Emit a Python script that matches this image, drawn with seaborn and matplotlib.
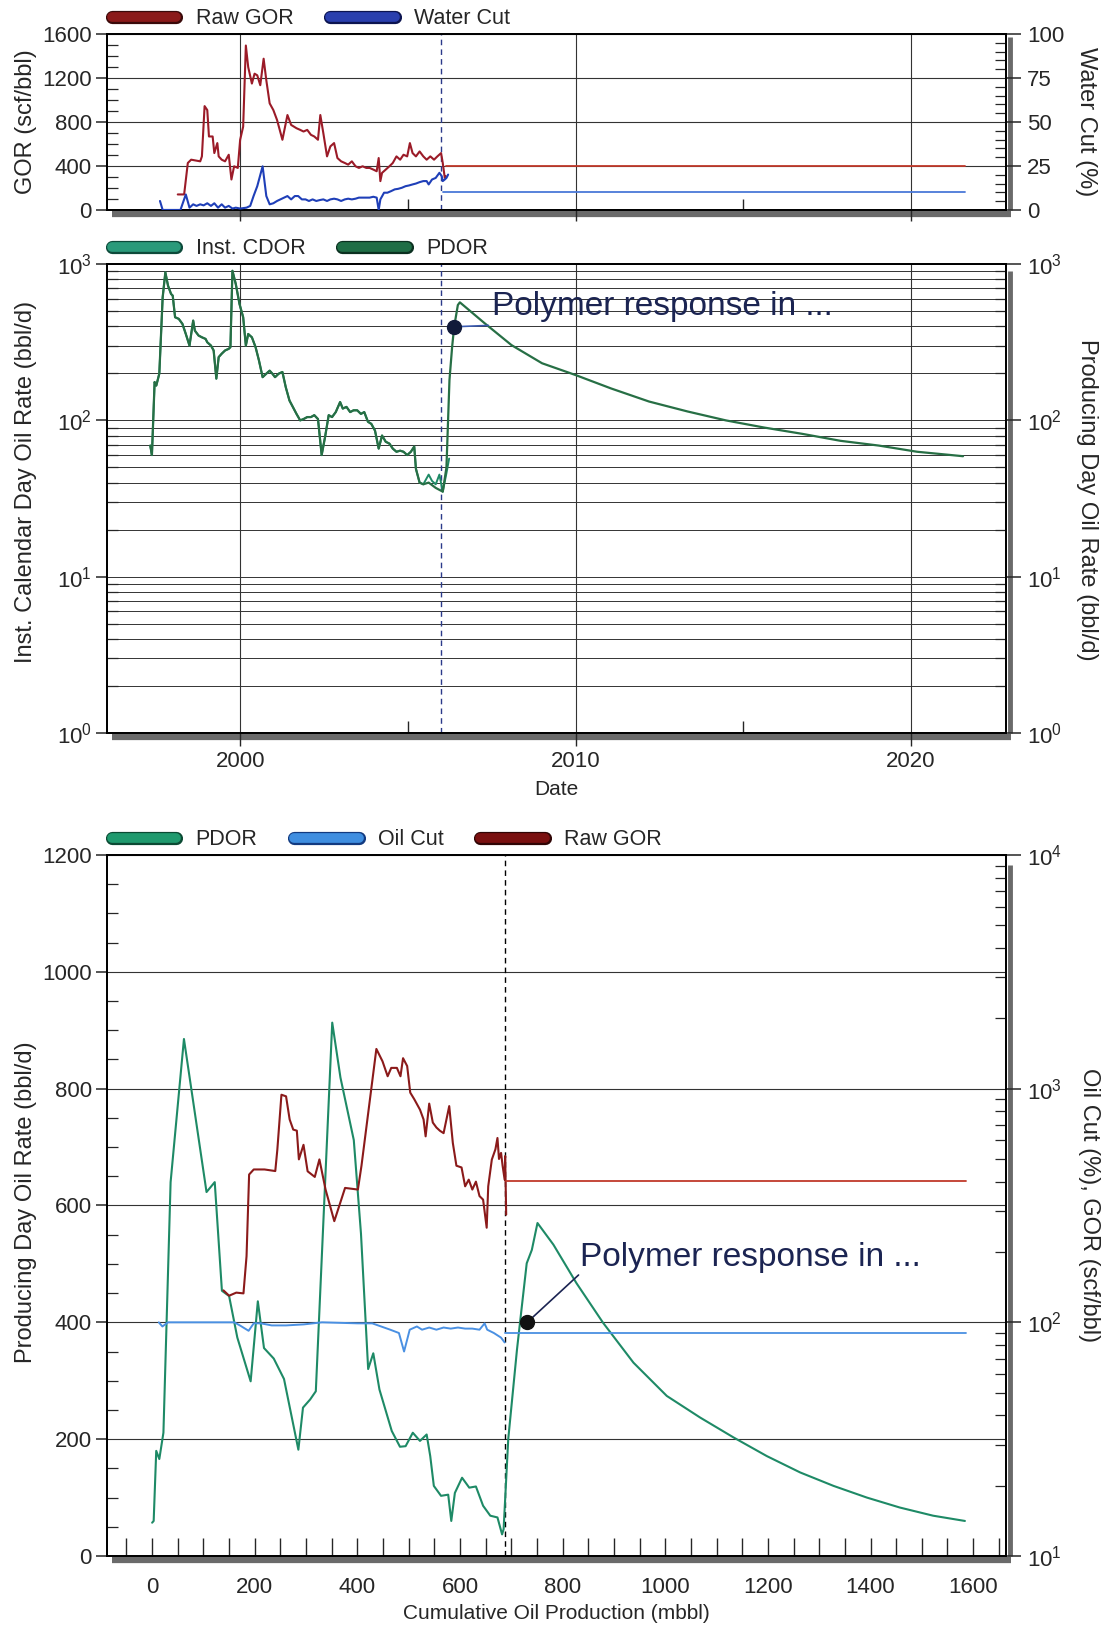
import numpy as np
import pandas as pd
import matplotlib
matplotlib.use("Agg")
import matplotlib.pyplot as plt
import seaborn as sns
from matplotlib import font_manager, transforms
from matplotlib.lines import Line2D
from matplotlib.ticker import MultipleLocator, FixedLocator, LogLocator, NullFormatter
import matplotlib.patheffects as pe

# ---------------- data ----------------
# Top panel: Raw GOR history (year, scf/bbl)
gor_hist = [(1998.14,141),(1998.33,141),(1998.44,427),(1998.54,457),(1998.81,442),(1998.86,487),
            (1998.94,944),(1999.02,908),(1999.07,668),(1999.18,668),(1999.23,517),(1999.32,608),
            (1999.36,487),(1999.45,457),(1999.55,442),(1999.66,502),(1999.74,277),(1999.82,397),
            (1999.93,382),(2000.00,638),(2000.09,758),(2000.17,1495),(2000.24,1299),(2000.35,1149),
            (2000.43,1239),(2000.51,1224),(2000.60,1134),(2000.70,1375),(2000.78,1179),(2000.88,969),
            (2000.99,908),(2001.10,818),(2001.26,638),(2001.41,863),(2001.52,773),(2001.68,743),
            (2001.79,728),(2001.89,713),(2002.00,728),(2002.11,683),(2002.21,668),(2002.32,638),
            (2002.39,863),(2002.48,698),(2002.59,487),(2002.69,578),(2002.80,608),(2002.90,472),
            (2003.01,442),(2003.12,427),(2003.22,412),(2003.33,442),(2003.44,397),(2003.54,382),
            (2003.65,397),(2003.76,382),(2003.86,382),(2003.97,367),(2004.07,352),(2004.13,472),
            (2004.18,262),(2004.23,337),(2004.34,367),(2004.45,397),(2004.55,427),(2004.66,487),
            (2004.77,457),(2004.87,502),(2004.98,487),(2005.06,608),(2005.14,517),(2005.24,487),
            (2005.35,532),(2005.46,487),(2005.56,457),(2005.67,487),(2005.78,457),(2005.88,487),
            (2005.99,517),(2006.04,427),(2006.10,292),(2006.13,307)]
gor_fcst = [(2006.13,400),(2021.60,400)]

# Top panel: Water Cut history (year, %)
wc_hist = [(1997.61,5.1),(1997.69,0),(1998.22,0),(1998.38,8.8),(1998.49,1.3),(1998.60,3.2),
           (1998.70,2.3),(1998.81,3.2),(1998.91,2.6),(1999.02,3.8),(1999.13,2.3),(1999.23,3.8),
           (1999.34,1.3),(1999.45,3.2),(1999.55,1.3),(1999.66,2.3),(1999.77,0.8),(1999.87,1.3),
           (2000.00,0.8),(2000.19,1.3),(2000.30,2.3),(2000.40,7.9),(2000.51,13.5),(2000.67,24.8),
           (2000.78,7.9),(2000.88,3.2),(2000.99,3.8),(2001.10,5.1),(2001.20,6.0),(2001.31,7.0),
           (2001.41,7.9),(2001.52,6.0),(2001.63,7.9),(2001.73,7.9),(2001.84,6.0),(2001.95,6.0),
           (2002.05,5.1),(2002.16,6.0),(2002.27,5.1),(2002.37,5.6),(2002.48,6.0),(2002.59,5.1),
           (2002.69,6.0),(2002.80,6.4),(2002.90,6.0),(2003.01,5.1),(2003.12,6.0),(2003.22,6.4),
           (2003.33,6.0),(2003.44,6.4),(2003.54,7.0),(2003.65,7.0),(2003.76,7.0),(2003.86,7.0),
           (2003.97,7.5),(2004.07,7.0),(2004.13,0),(2004.18,6.0),(2004.29,9.8),(2004.39,9.8),
           (2004.50,10.7),(2004.61,11.7),(2004.71,12.0),(2004.82,12.6),(2004.93,13.5),(2005.03,13.9),
           (2005.14,14.5),(2005.24,15.0),(2005.35,15.8),(2005.46,16.4),(2005.56,16.4),(2005.62,14.5),
           (2005.72,17.3),(2005.83,18.2),(2005.94,21.1),(2006.01,19.2),(2006.04,16.4),(2006.10,17.3),
           (2006.15,18.2),(2006.20,20.1)]
wc_fcst = [(2006.04,10),(2021.60,10)]

# Middle panel: Inst. CDOR history (year, bbl/d)
cdor_hist = [(1997.32,69),(1997.37,60),(1997.45,176),(1997.50,167),(1997.59,199),(1997.69,612),
             (1997.77,885),(1997.85,727),(1997.94,644),(1997.99,628),(1998.06,457),(1998.17,446),
             (1998.28,414),(1998.38,357),(1998.49,301),(1998.60,435),(1998.65,375),(1998.76,349),
             (1998.86,340),(1998.97,332),(1999.02,316),(1999.13,301),(1999.21,280),(1999.29,185),
             (1999.36,254),(1999.45,267),(1999.55,280),(1999.66,287),(1999.71,294),(1999.77,906),
             (1999.87,745),(1999.98,556),(2000.09,457),(2000.17,301),(2000.24,357),(2000.35,340),
             (2000.46,294),(2000.56,242),(2000.67,189),(2000.78,199),(2000.88,208),(2000.96,199),
             (2001.04,189),(2001.15,199),(2001.26,204),(2001.36,163),(2001.47,134),(2001.57,122),
             (2001.68,110),(2001.79,100),(2001.89,102),(2002.00,105),(2002.11,105),(2002.21,108),
             (2002.32,102),(2002.43,60),(2002.53,78),(2002.64,108),(2002.74,105),(2002.85,113),
             (2002.98,131),(2003.06,119),(2003.17,122),(2003.28,113),(2003.38,116),(2003.49,116),
             (2003.60,110),(2003.70,113),(2003.81,98),(2003.91,95),(2004.02,86),(2004.13,66),
             (2004.23,80),(2004.34,73),(2004.45,71),(2004.55,66),(2004.66,63),(2004.77,64),
             (2004.87,63),(2004.98,60),(2005.09,63),(2005.19,68),(2005.24,49),(2005.35,40),
             (2005.46,39),(2005.62,45),(2005.72,41),(2005.83,39),(2005.94,45),(2006.04,35),
             (2006.15,46),(2006.23,57)]
# Middle panel: PDOR (history + polymer response forecast)
pdor_time = [(1997.32,69),(1997.37,60),(1997.45,176),(1997.50,167),(1997.59,199),(1997.69,612),
             (1997.77,885),(1997.85,727),(1997.94,644),(1997.99,628),(1998.06,457),(1998.17,446),
             (1998.28,414),(1998.38,357),(1998.49,301),(1998.60,435),(1998.65,375),(1998.76,349),
             (1998.86,340),(1998.97,332),(1999.02,316),(1999.13,301),(1999.21,280),(1999.29,185),
             (1999.36,254),(1999.45,267),(1999.55,280),(1999.66,287),(1999.71,294),(1999.77,906),
             (1999.87,745),(1999.98,556),(2000.09,457),(2000.17,301),(2000.24,357),(2000.35,340),
             (2000.46,294),(2000.56,242),(2000.67,189),(2000.78,199),(2000.88,208),(2000.96,199),
             (2001.04,189),(2001.15,199),(2001.26,204),(2001.36,163),(2001.47,134),(2001.57,122),
             (2001.68,110),(2001.79,100),(2001.89,102),(2002.00,105),(2002.11,105),(2002.21,108),
             (2002.32,102),(2002.43,60),(2002.53,78),(2002.64,108),(2002.74,105),(2002.85,113),
             (2002.98,131),(2003.06,119),(2003.17,122),(2003.28,113),(2003.38,116),(2003.49,116),
             (2003.60,110),(2003.70,113),(2003.81,98),(2003.91,95),(2004.02,86),(2004.13,66),
             (2004.23,80),(2004.34,73),(2004.45,71),(2004.55,66),(2004.66,63),(2004.77,64),
             (2004.87,63),(2004.98,60),(2005.09,63),(2005.19,68),(2005.24,49),(2005.35,40),
             (2005.46,39),(2005.62,40),(2005.83,37),(2006.04,35),
             (2006.15,50),(2006.24,181),(2006.32,296),(2006.38,397),(2006.49,547),(2006.55,569),
             (2007.29,418),(2008.09,303),(2009.00,232),(2010.00,195),(2011.06,160),(2012.19,132),
             (2013.34,114),(2014.48,100),(2015.62,90),(2016.76,82),(2017.90,74),(2019.04,69),
             (2020.18,63),(2021.55,59)]

# Bottom panel: PDOR vs cumulative oil (mbbl, bbl/d)
pdor_cum = [(0,57),(3,60),(8,180),(14,166),(22,211),(36,640),(62,885),(106,623),(122,640),
            (136,454),(150,445),(166,374),(192,299),(206,436),(218,356),(237,338),(257,303),
            (285,182),(294,254),(308,268),(319,282),(351,913),(367,819),(393,712),(407,552),
            (421,320),(431,347),(443,285),(467,214),(483,187),(494,188),(508,211),(522,197),
            (535,208),(542,171),(549,120),(563,103),(577,105),(583,60),(590,108),(604,134),
            (618,117),(631,119),(645,86),(659,69),(673,66),(682,37),(685,46),
            (694,200),(711,353),(717,400),(730,501),(740,524),(751,570),(782,533),(827,467),
            (879,399),(938,331),(1003,274),(1068,237),(1133,203),(1198,171),(1263,143),
            (1328,120),(1393,100),(1457,83),(1522,69),(1584,60)]
# Bottom panel: Oil Cut (%) vs cumulative
oilcut_cum = [(13,100),(20,96),(31,100),(160,100),(171,97),(188,92),(198,99),(212,99),(233,97),
              (261,97),(296,98),(331,100),(401,99),(429,99),(464,93),(481,90),(491,75),(502,93),
              (516,96),(526,93),(540,95),(554,93),(568,95),(582,94),(596,95),(610,94),(624,94),
              (638,93),(648,99),(653,93),(666,90),(680,86),(687,82)]
oilcut_fcst = [(687,90),(1587,90)]
# Bottom panel: Raw GOR (scf/bbl) vs cumulative
gor_cum = [(139,137),(150,130),(164,134),(178,133),(184,192),(189,429),(198,451),(219,451),
           (240,444),(244,548),(252,942),(261,927),(268,738),(275,668),(282,661),(286,498),
           (295,575),(303,443),(317,419),(326,498),(338,370),(355,271),(376,376),(401,370),
           (408,468),(437,1479),(449,1309),(459,1130),(466,1227),(477,1227),(484,1130),
           (489,1350),(497,1250),(503,962),(511,900),(522,813),(529,738),(533,625),(540,863),
           (547,716),(554,682),(561,660),(568,645),(579,842),(586,586),(593,468),(603,460),
           (610,382),(617,408),(624,370),(631,400),(638,347),(645,335),(652,254),(655,382),
           (662,497),(669,550),(673,615),(676,500),(680,531),(683,468),(687,408),(688,515),
           (690,289)]
gor_cum_fcst = [(690,402),(1586,402)]

# annotation anchors
polymer_label = "Polymer response in ..."
polymer_time_dot = (2006.38, 397)
polymer_time_leader = (2007.40, 405)
polymer_time_text = (2007.52, 472)
polymer_cum_dot = (731, 400)
polymer_cum_leader = (831, 481)
polymer_cum_text = (834, 496)
polymer_start_year = 2006.0
polymer_start_cum = 687

year_ticks = [2000, 2010, 2020]
cum_ticks = [0, 200, 400, 600, 800, 1000, 1200, 1400, 1600]

# ---------------- style ----------------
sns.set_theme(style="white")
avail = {f.name for f in font_manager.fontManager.ttflist}
fam = "Liberation Sans" if "Liberation Sans" in avail else "DejaVu Sans"
plt.rcParams["font.family"] = [fam, "DejaVu Sans"]
plt.rcParams["mathtext.default"] = "regular"
plt.rcParams["axes.edgecolor"] = "black"
plt.rcParams["axes.linewidth"] = 1.3

C_GOR = "#9b1b28"
C_GOR_F = "#c0392b"
C_WC = "#1f3fb8"
C_WC_F = "#4a78d8"
C_GREEN = "#276f45"
C_TEAL = "#1e8a66"
C_OILCUT = "#4a90e2"
C_NAVY = "#1b2452"
GRID = "#333333"
TICK_FS = 16
LAB_FS = 17

def df(pairs):
    return pd.DataFrame(pairs, columns=["x", "y"])

def line(ax, pairs, color, lw=1.5, z=3):
    d = df(pairs)
    sns.lineplot(data=d, x="x", y="y", ax=ax, color=color, lw=lw, estimator=None,
                 sort=False, zorder=z)

fig = plt.figure(figsize=(11.04, 16.25), dpi=100)
L, W = 0.0969, 0.8143
ax1 = fig.add_axes([L, 0.8708, W, 0.1083])
ax2 = fig.add_axes([L, 0.5489, W, 0.2886])
ax3 = fig.add_axes([L, 0.04246, W, 0.4314])
ax1r = ax1.twinx()
ax2r = ax2.twinx()
ax3r = ax3.twinx()

def shadow(ax):
    tb = transforms.offset_copy(ax.transAxes, fig=fig, x=0, y=-4, units="dots")
    ax.plot([0.006, 1.006], [0, 0], transform=tb, color="#6a6a6a", lw=4.5,
            clip_on=False, solid_capstyle="butt", zorder=0)
    tr = transforms.offset_copy(ax.transAxes, fig=fig, x=4, y=0, units="dots")
    ax.plot([1, 1], [-0.0, 0.985], transform=tr, color="#6a6a6a", lw=3.5,
            clip_on=False, solid_capstyle="butt", zorder=0)

def legend_handle(color, edge):
    return Line2D([0], [0], color=color, lw=7, solid_capstyle="round",
                  path_effects=[pe.Stroke(linewidth=9.5, foreground=edge), pe.Normal()])

def add_legend(ax, items):
    hs = [legend_handle(c, e) for c, e, _ in items]
    ls = [t for _, _, t in items]
    ax.legend(hs, ls, loc="lower left", bbox_to_anchor=(0.0, 1.0), ncol=len(items),
              frameon=False, handlelength=3.0, handletextpad=0.9, columnspacing=1.7,
              borderpad=0.0, borderaxespad=0.22, fontsize=15.5)

# ---------------- top panel ----------------
line(ax1, gor_hist, C_GOR)
line(ax1, gor_fcst, C_GOR_F, lw=1.3)
line(ax1r, wc_hist, C_WC)
line(ax1r, wc_fcst, C_WC_F, lw=1.3)
ax1.axvline(polymer_start_year, color="#2b3a8a", ls=(0, (4, 3)), lw=1.0, zorder=2)
ax1.set_xlim(1996.03, 2022.83)
ax1.set_ylim(0, 1600)
ax1r.set_ylim(0, 100)
ax1.set_yticks([0, 400, 800, 1200, 1600])
ax1.yaxis.set_minor_locator(MultipleLocator(100))
ax1r.set_yticks([0, 25, 50, 75, 100])
ax1r.yaxis.set_minor_locator(MultipleLocator(5))
ax1.set_xticks(year_ticks)
ax1.xaxis.set_minor_locator(FixedLocator([2005, 2015]))
ax1.set_xticklabels([])
ax1.grid(True, which="major", axis="both", color=GRID, lw=0.8)
ax1.set_xlabel("")
ax1.set_ylabel("GOR (scf/bbl)", fontsize=LAB_FS)
ax1r.set_ylabel("Water Cut (%)", fontsize=LAB_FS, rotation=270, va="bottom")
ax1.yaxis.set_label_coords(-0.078, 0.5)
ax1r.yaxis.set_label_coords(1.077, 0.5)
ax1r.set_xlabel("")
add_legend(ax1r, [("#8b1a1a", "#3a0a0a", "Raw GOR"), ("#2a3fae", "#0c1450", "Water Cut")])

# ---------------- middle panel ----------------
line(ax2, cdor_hist, C_TEAL, lw=1.4, z=3)
line(ax2r, pdor_time, C_GREEN, lw=1.6, z=4)
ax2.axvline(polymer_start_year, color="#2b3a8a", ls=(0, (4, 3)), lw=1.0, zorder=2)
for a in (ax2, ax2r):
    a.set_yscale("log")
    a.set_ylim(1, 1000)
ax2.set_xlim(1996.03, 2022.83)
ax2.set_xticks(year_ticks)
ax2.xaxis.set_minor_locator(FixedLocator([2005, 2015]))
for a in (ax2, ax2r):
    a.yaxis.set_major_locator(LogLocator(base=10, numticks=10))
    a.yaxis.set_minor_locator(LogLocator(base=10, subs=np.arange(2, 10), numticks=20))
    a.yaxis.set_minor_formatter(NullFormatter())
ax2.grid(True, which="major", axis="x", color=GRID, lw=0.8)
ax2.grid(True, which="both", axis="y", color=GRID, lw=0.7)
ax2.set_xlabel("Date", fontsize=15)
ax2.xaxis.set_label_coords(0.5, -0.100)
ax2.set_ylabel("Inst. Calendar Day Oil Rate (bbl/d)", fontsize=LAB_FS)
ax2.yaxis.set_label_coords(-0.078, 0.535)
ax2r.set_ylabel("Producing Day Oil Rate (bbl/d)", fontsize=LAB_FS, rotation=270, va="bottom")
ax2r.yaxis.set_label_coords(1.078, 0.497)
# annotation
ax2r.plot([polymer_time_dot[0], polymer_time_leader[0]], [polymer_time_dot[1], polymer_time_leader[1]],
          color="#3b5bb0", lw=1.2, zorder=5)
ax2r.plot([polymer_time_dot[0]], [polymer_time_dot[1]], "o", color="#111a3a", ms=10, zorder=6)
ax2r.text(polymer_time_text[0], polymer_time_text[1], polymer_label, fontsize=24, color=C_NAVY,
          ha="left", va="baseline", zorder=6)
add_legend(ax2r, [("#2a9a7a", "#0d4a3a", "Inst. CDOR"), ("#1f6e46", "#0b3020", "PDOR")])

# ---------------- bottom panel ----------------
line(ax3, pdor_cum, C_TEAL, lw=1.5, z=3)
line(ax3r, oilcut_cum, C_OILCUT, lw=1.4)
line(ax3r, oilcut_fcst, C_OILCUT, lw=1.3)
line(ax3r, gor_cum, "#8b1a1a", lw=1.5)
line(ax3r, gor_cum_fcst, C_GOR_F, lw=1.3)
ax3.axvline(polymer_start_cum, color="black", ls=(0, (4, 3)), lw=1.0, zorder=2)
ax3.set_xlim(-88, 1664)
ax3.set_ylim(0, 1200)
ax3.set_xticks(cum_ticks)
ax3.xaxis.set_minor_locator(MultipleLocator(50))
ax3.set_yticks([0, 200, 400, 600, 800, 1000, 1200])
ax3.yaxis.set_minor_locator(MultipleLocator(50))
ax3.grid(True, which="major", axis="y", color=GRID, lw=0.8)
ax3r.set_yscale("log")
ax3r.set_ylim(10, 10000)
ax3r.yaxis.set_major_locator(LogLocator(base=10, numticks=10))
ax3r.yaxis.set_minor_locator(LogLocator(base=10, subs=np.arange(2, 10), numticks=20))
ax3r.yaxis.set_minor_formatter(NullFormatter())
ax3.set_xlabel("Cumulative Oil Production (mbbl)", fontsize=15)
ax3.xaxis.set_label_coords(0.5, -0.069)
ax3.set_ylabel("Producing Day Oil Rate (bbl/d)", fontsize=LAB_FS)
ax3.yaxis.set_label_coords(-0.078, 0.505)
ax3r.set_ylabel("Oil Cut (%), GOR (scf/bbl)", fontsize=LAB_FS, rotation=270, va="bottom")
ax3r.yaxis.set_label_coords(1.08, 0.5)
ax3.plot([polymer_cum_dot[0], polymer_cum_leader[0]], [polymer_cum_dot[1], polymer_cum_leader[1]],
         color=C_NAVY, lw=1.2, zorder=5)
ax3.plot([polymer_cum_dot[0]], [polymer_cum_dot[1]], "o", color="#111111", ms=10, zorder=6)
ax3.text(polymer_cum_text[0], polymer_cum_text[1], polymer_label, fontsize=24, color=C_NAVY,
         ha="left", va="baseline", zorder=6)
add_legend(ax3r, [("#1f9a6e", "#0b4a33", "PDOR"), ("#3f8ee0", "#123a80", "Oil Cut"),
                  ("#7a1010", "#300505", "Raw GOR")])

# ---------------- ticks ----------------
for ax in (ax1, ax2, ax3):
    ax.tick_params(axis="y", which="major", direction="out", length=8, width=1.1,
                   labelsize=TICK_FS, pad=3, left=True)
    ax.tick_params(axis="y", which="minor", direction="in", length=8, width=0.9, left=True)
    ax.tick_params(axis="x", which="both", labelsize=TICK_FS, bottom=True)
for ax in (ax1r, ax2r, ax3r):
    ax.tick_params(axis="y", which="major", direction="out", length=11, width=1.1,
                   labelsize=TICK_FS, pad=4, right=True)
    ax.tick_params(axis="y", which="minor", direction="in", length=8, width=0.9, right=True)
ax1.tick_params(axis="x", which="major", direction="out", length=8, width=1.0)
ax1.tick_params(axis="x", which="minor", direction="in", length=8, width=1.0)
ax2.tick_params(axis="x", which="major", direction="out", length=9, width=1.0, pad=4)
ax2.tick_params(axis="x", which="minor", direction="in", length=9, width=1.0)
ax3.tick_params(axis="x", which="both", direction="in", length=13, width=1.0, pad=15)

for ax in (ax1, ax2, ax3):
    shadow(ax)
    for s in ax.spines.values():
        s.set_color("black")

fig.savefig("out.png", dpi=100)
